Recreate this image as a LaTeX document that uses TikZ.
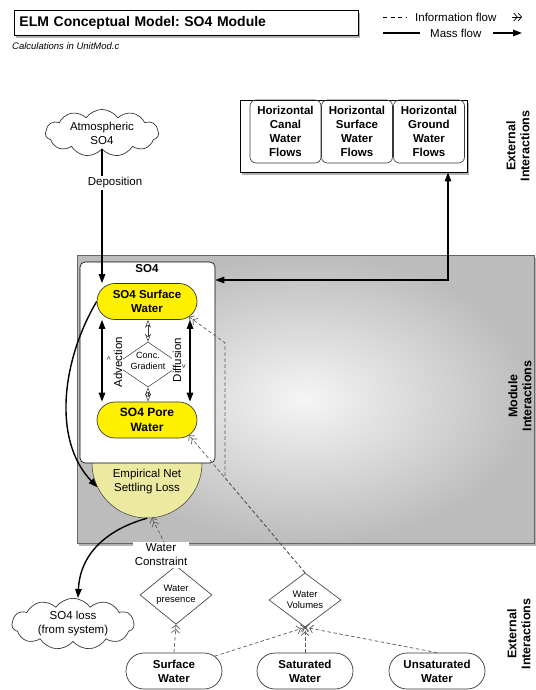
\documentclass[tikz,border=0pt]{standalone}
\usepackage{fontspec}
\setmainfont{Liberation Sans}
\usetikzlibrary{shapes.geometric,shapes.symbols,shapes.misc,arrows.meta,shadows,calc}
\frenchspacing
\definecolor{sunyellow}{RGB}{255,240,0}
\definecolor{paleyellow}{RGB}{236,234,160}
\definecolor{modinner}{RGB}{245,245,245}
\definecolor{modouter}{RGB}{188,188,188}
\definecolor{infogray}{RGB}{90,90,90}
\definecolor{edgegray}{RGB}{55,55,55}

\tikzset{
  txt/.style={font=\fontsize{11.5}{14}\selectfont, align=center, inner sep=1.5pt},
  btxt/.style={font=\fontsize{11.5}{14}\selectfont\bfseries, align=center},
  sidelbl/.style={font=\fontsize{12.5}{14}\selectfont\bfseries, align=center, rotate=90},
  massflow/.style={line width=1.4pt, -{Triangle[length=9pt,width=6.5pt]}},
  massboth/.style={line width=1.4pt, {Triangle[length=9pt,width=6.5pt]}-{Triangle[length=9pt,width=6.5pt]}},
  infotips/.style={-{Straight Barb[length=3.5pt,width=8pt]Straight Barb[length=3.5pt,width=8pt]}},
  infoflow/.style={draw=infogray, line width=0.7pt, dash pattern=on 3.5pt off 2.5pt, infotips},
  gradflow/.style={draw=edgegray, line width=0.5pt, {Stealth[open,length=8pt,width=6pt]}-{Stealth[open,length=8pt,width=6pt]}},
  pill/.style={rounded rectangle, draw=edgegray, line width=0.7pt, btxt, minimum width=98pt, minimum height=36pt, inner sep=1pt},
  yellowpill/.style={pill, fill=sunyellow, minimum width=102pt},
  cloudnode/.style={cloud, cloud puffs=11, cloud puff arc=110, cloud ignores aspect, draw=edgegray, fill=white, line width=0.7pt, txt, inner xsep=8pt, inner ysep=0pt},
  gate/.style={diamond, draw=edgegray, line width=0.6pt, fill=white, font=\fontsize{9.5}{11}\selectfont, align=center, inner sep=0pt, minimum width=72pt, minimum height=44pt},
  subbox/.style={draw=edgegray, rounded corners=6pt, line width=0.6pt, btxt, minimum width=71pt, minimum height=63pt},
  boxshadow/.style={drop shadow={shadow xshift=1.5pt, shadow yshift=-3pt, opacity=0.6}},
}

\begin{document}
\begin{tikzpicture}[x=1pt,y=-1pt]
\useasboundingbox (0,0) rectangle (535,690);
\fill[white] (0,0) rectangle (535,690);

% title and note
\node[draw, line width=0.9pt, fill=white, boxshadow, minimum width=344pt, minimum height=25pt,
      text width=334pt, inner xsep=5pt, align=left, anchor=north west,
      font=\fontsize{14}{16}\selectfont\bfseries] (title) at (14,10) {ELM Conceptual Model: SO4 Module};
\node[font=\fontsize{9.5}{11}\selectfont\itshape, anchor=west, inner sep=0pt] (calcnote) at (12,46) {Calculations in UnitMod.c};

% legend
\coordinate (lgA1) at (383,17); \coordinate (lgA2) at (407,17);
\draw[line width=0.7pt, dash pattern=on 4pt off 3.5pt] (lgA1) -- (lgA2);
\node[txt, anchor=west, inner sep=0pt] (lginfo) at (415,17) {Information flow};
\coordinate (lgB1) at (512,17); \coordinate (lgB2) at (522,17);
\draw[line width=0.7pt, infotips] (lgB1) -- (lgB2);
\coordinate (lgC1) at (383,33); \coordinate (lgC2) at (420,33);
\draw[line width=1.4pt] (lgC1) -- (lgC2);
\node[txt, anchor=west, inner sep=0pt] (lgmass) at (430,33) {Mass flow};
\coordinate (lgD1) at (493,33); \coordinate (lgD2) at (522,33);
\draw[massflow] (lgD1) -- (lgD2);

% module box
\node[draw=black!60, line width=0.6pt, shading=radial, inner color=modinner, outer color=modouter,
      boxshadow, minimum width=457pt, minimum height=288pt, inner sep=0pt] (module) at (305.5,399) {};

% side labels
\node[sidelbl] (extTop) at (518,146) {External\\Interactions};
\node[sidelbl] (modInt) at (520,396) {Module\\Interactions};
\node[sidelbl] (extBot) at (519,634) {External\\Interactions};

% atmospheric cloud
\node[cloudnode] (atm) at (102,133) {Atmospheric\\SO4};

% horizontal flows
\node[draw, line width=0.9pt, fill=white, boxshadow, minimum width=227pt, minimum height=72pt, inner sep=0pt] (hflow) at (353.5,136) {};
\node[subbox] (hcanal) at (285.5,131.5) {Horizontal\\Canal\\Water\\Flows};
\node[subbox] (hsurf) at (357,131.5) {Horizontal\\Surface\\Water\\Flows};
\node[subbox] (hground) at (429,131.5) {Horizontal\\Ground\\Water\\Flows};

% empirical settling
\node[circle, draw=edgegray, line width=0.5pt, fill=paleyellow, minimum size=110pt, inner sep=0pt] (emp) at (147,463) {};
\node[txt] (emptext) at (147,482) {Empirical Net\\Settling Loss};

% SO4 box
\node[draw=black, line width=0.6pt, fill=white, rounded corners=5pt, minimum width=135pt, minimum height=201pt, inner sep=0pt] (so4box) at (147.5,362.5) {};
\node[btxt] (so4lbl) at (147,269) {SO4};

\node[yellowpill] (sw) at (147,301.5) {SO4 Surface\\Water};
\node[yellowpill, font=\fontsize{12}{14.5}\selectfont\bfseries] (pw) at (147,420) {SO4 Pore\\Water};

% concentration gradient
\node[diamond, draw=edgegray, line width=0.5pt, minimum width=66pt, minimum height=45pt, inner sep=0pt] (cg) at (148,364.5) {};
\node[font=\fontsize{9}{11.5}\selectfont, align=center, inner sep=0pt] (cgtext) at (148,361) {Conc.\\Gradient};
\node[txt, rotate=90, fill=white, inner sep=1pt] (advlbl) at (118,362) {Advection};
\node[txt, rotate=90, fill=white, inner sep=1pt] (difflbl) at (177,360) {Diffusion};
\node[font=\fontsize{7}{7}\selectfont, rotate=90, inner sep=0pt] (advmark) at (109,358) {>};
\node[font=\fontsize{7}{7}\selectfont, rotate=90, inner sep=0pt] (diffmark) at (184,366) {<};

\coordinate (advx) at (102,0);
\coordinate (difx) at (190,0);
\draw[massboth] (sw.south -| advx) -- (pw.north -| advx);
\draw[massboth] (sw.south -| difx) -- (pw.north -| difx);
\draw[gradflow] (sw.south -| cg.north) -- (cg.north);
\draw[gradflow] (cg.south) -- (pw.north -| cg.south);

% deposition
\draw[massflow] (atm.south) -- (atm.south |- sw.north);
\node[txt, fill=white] (deplbl) at (115,183) {Deposition};

% exchange with horizontal flows
\coordinate (hcorner) at (448,280);
\draw[massboth] (so4box.east |- hcorner) -- (hcorner) -- (hcorner |- hflow.south);

% settling
\draw[massflow] (sw.west) .. controls (62,360) and (52,440) .. (emp.206);

% loss cloud
\node[cloudnode] (so4loss) at (73,624) {SO4 loss\\(from system)};
\coordinate (lossx) at (78,0);
\draw[massflow] (emp.south) .. controls (105,530) and (80,555) .. (so4loss.north -| lossx);

% gates and water nodes
\node[gate] (wp) at (176,595) {Water\\presence};
\node[gate] (wv) at (305,600) {Water\\Volumes};
\node[pill] (sfw) at (174,671) {Surface\\Water};
\node[pill] (sat) at (305,671) {Saturated\\Water};
\node[pill] (unsat) at (437,671) {Unsaturated\\Water};

% information flows
\draw[infoflow] (wp.north) -- (emp.275);
\node[txt, fill=white, inner sep=2pt] (wclbl) at (161,555) {Water\\Constraint};
\draw[infoflow] (sfw.north) -- (wp.south);
\draw[infoflow] (sfw.20) -- (wv.south);
\draw[infoflow] (sat.north) -- (wv.south);
\draw[infoflow] (unsat.north) -- (wv.south);
\draw[infoflow] (wv.north) -- (pw.-20);
\draw[infoflow] (wv.north) -- ($(wv.north)!0.69!(pw.-20)$) -- ++(0,-135) -- (sw.-20);
\end{tikzpicture}
\end{document}
